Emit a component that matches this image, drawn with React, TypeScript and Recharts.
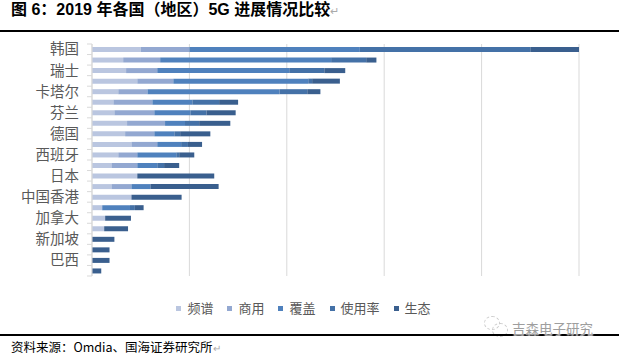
import React from 'react';
import { BarChart, Bar, XAxis, YAxis, CartesianGrid, Legend } from 'recharts';

// categories top to bottom; only every other name is printed on the axis
const categories = [
  '韩国', '美国', '瑞士', '中国', '卡塔尔', '英国', '芬兰', '阿联酋', '德国', '澳大利亚', '西班牙',
  '意大利', '日本', '沙特', '中国香港', '科威特', '加拿大', '法国', '新加坡', '新西兰', '巴西', '印度',
];

const spectrum = [10, 6.4, 7.0, 9.3, 5.4, 4.4, 4.6, 7.2, 6.8, 8.1, 5.4, 4.0, 9.3, 4.0, 8.1, 2.1, 2.7, 2.5, 0, 0, 0, 0];
const commercial = [10, 7.6, 6.4, 7.4, 6.0, 8.0, 8.2, 7.8, 6.0, 5.3, 3.9, 5.3, 0, 4.1, 0, 0, 0, 0, 0, 0, 0, 0];
const coverage = [35, 35.1, 27.1, 27.7, 27.1, 8.2, 7.4, 4.1, 4.1, 4.9, 8.0, 4.1, 0, 3.9, 0, 5.7, 0, 0, 0, 0, 0, 0];
const usage = [35, 7.2, 7.2, 0.8, 5.7, 5.5, 3.3, 2.9, 1.2, 1.4, 0.6, 1.4, 0, 0, 0, 1.0, 0, 0, 0, 0, 0, 0];
const ecosystem = [10, 2.1, 4.3, 5.7, 2.7, 3.9, 6.0, 6.4, 6.2, 2.9, 3.1, 3.1, 15.8, 14.0, 10.3, 1.8, 5.3, 4.9, 4.6, 3.6, 3.6, 1.9];

const seriesNames = ['频谱', '商用', '覆盖', '使用率', '生态'];
const seriesValues = [spectrum, commercial, coverage, usage, ecosystem];
const colors = ['#BAC6E0', '#93A8D1', '#4F81BD', '#4471A7', '#3A5F8E'];
const xTicks = [0, 20, 40, 60, 80, 100];

const data = categories.map((name, i) => {
  const row: Record<string, string | number> = { name };
  seriesNames.forEach((s, k) => {
    row[s] = seriesValues[k][i];
  });
  return row;
});

const W = 619;
const H = 355;
const MARGIN = { top: 44, right: 40, bottom: 79, left: 0 };
const AXIS_W = 92;
const GRID = '#D9D9D9';
const CJK = '"Noto Sans CJK SC", "Liberation Sans", sans-serif';

function CategoryTick(props: any) {
  const { x, y, payload, index } = props;
  const half = payload && payload.offset ? payload.offset : (H - MARGIN.top - MARGIN.bottom) / categories.length / 2;
  const axisX = x + 13;
  return (
    <g>
      <line x1={axisX - 5} x2={axisX} y1={y - half} y2={y - half} stroke={GRID} />
      {index === categories.length - 1 && (
        <line x1={axisX - 5} x2={axisX} y1={y + half} y2={y + half} stroke={GRID} />
      )}
      {index % 2 === 0 && (
        <text x={x} y={y} dy="0.36em" textAnchor="end" fill="#595959" fontSize={14.5} fontFamily={CJK}>
          {payload.value}
        </text>
      )}
    </g>
  );
}

const renderLegend = () => (
  <div
    style={{
      display: 'flex',
      justifyContent: 'center',
      alignItems: 'center',
      fontFamily: CJK,
      fontSize: 13,
      lineHeight: '18px',
      color: '#595959',
      paddingRight: 12,
    }}
  >
    {seriesNames.map((n, i) => (
      <span key={n} style={{ display: 'inline-flex', alignItems: 'center', marginRight: i < seriesNames.length - 1 ? 14 : 0 }}>
        <span style={{ width: 5, height: 5, background: colors[i], marginRight: 6, display: 'inline-block' }} />
        {n}
      </span>
    ))}
  </div>
);

export default function App() {
  return (
    <div style={{ position: 'absolute', left: 0, top: 0, width: W, height: H, background: '#fff', overflow: 'hidden' }}>
      <div
        style={{
          position: 'absolute',
          left: 11,
          top: 0,
          fontFamily: '"Liberation Sans", "Noto Sans CJK SC", sans-serif',
          fontWeight: 700,
          fontSize: 16,
          lineHeight: '19px',
          color: '#000',
          whiteSpace: 'nowrap',
        }}
      >
        图 6：2019 年各国（地区）5G 进展情况比较<span style={{ color: '#aaa', fontWeight: 400, fontSize: 11 }}>↵</span>
      </div>
      <div style={{ position: 'absolute', left: 0, top: 30, width: W, height: 1.5, background: '#000' }} />

      <div style={{ position: 'absolute', left: 0, top: 0 }}>
        <BarChart width={W} height={H} data={data} layout="vertical" margin={MARGIN}>
          <CartesianGrid horizontal={false} stroke={GRID} />
          <XAxis type="number" domain={[0, 100]} ticks={xTicks} hide />
          <YAxis
            type="category"
            dataKey="name"
            width={AXIS_W}
            axisLine={{ stroke: GRID }}
            tickLine={false}
            interval={0}
            tickMargin={7}
            tick={<CategoryTick />}
          />
          <Legend
            verticalAlign="middle"
            align="center"
            content={renderLegend}
            wrapperStyle={{ position: 'absolute', top: 299, left: 0, width: W }}
          />
          {seriesNames.map((s, i) => (
            <Bar key={s} dataKey={s} stackId="a" fill={colors[i]} barSize={5} isAnimationActive={false} />
          ))}
        </BarChart>
      </div>

      {/* watermark */}
      <div style={{ position: 'absolute', left: 484, top: 316, width: 14, height: 12, borderRadius: '50%', border: '1px dashed #ccc' }} />
      <div style={{ position: 'absolute', left: 492, top: 323, width: 14, height: 12, borderRadius: '50%', border: '1px dashed #ccc' }} />
      <div style={{ position: 'absolute', left: 0, top: 334, width: W, height: 1.5, background: '#000' }} />
      <div
        style={{
          position: 'absolute',
          left: 512,
          top: 319,
          fontFamily: CJK,
          fontSize: 13.5,
          lineHeight: '18px',
          color: '#9E9E9E',
          textShadow: '0 0 2px #fff, 0 0 2px #fff',
          whiteSpace: 'nowrap',
        }}
      >
        吉森电子研究
      </div>

      <div
        style={{
          position: 'absolute',
          left: 11,
          top: 339,
          fontFamily: CJK,
          fontSize: 12.5,
          lineHeight: '16px',
          color: '#000',
          whiteSpace: 'nowrap',
        }}
      >
        资料来源：Omdia、国海证券研究所<span style={{ color: '#aaa', fontSize: 10 }}>↵</span>
      </div>
    </div>
  );
}
